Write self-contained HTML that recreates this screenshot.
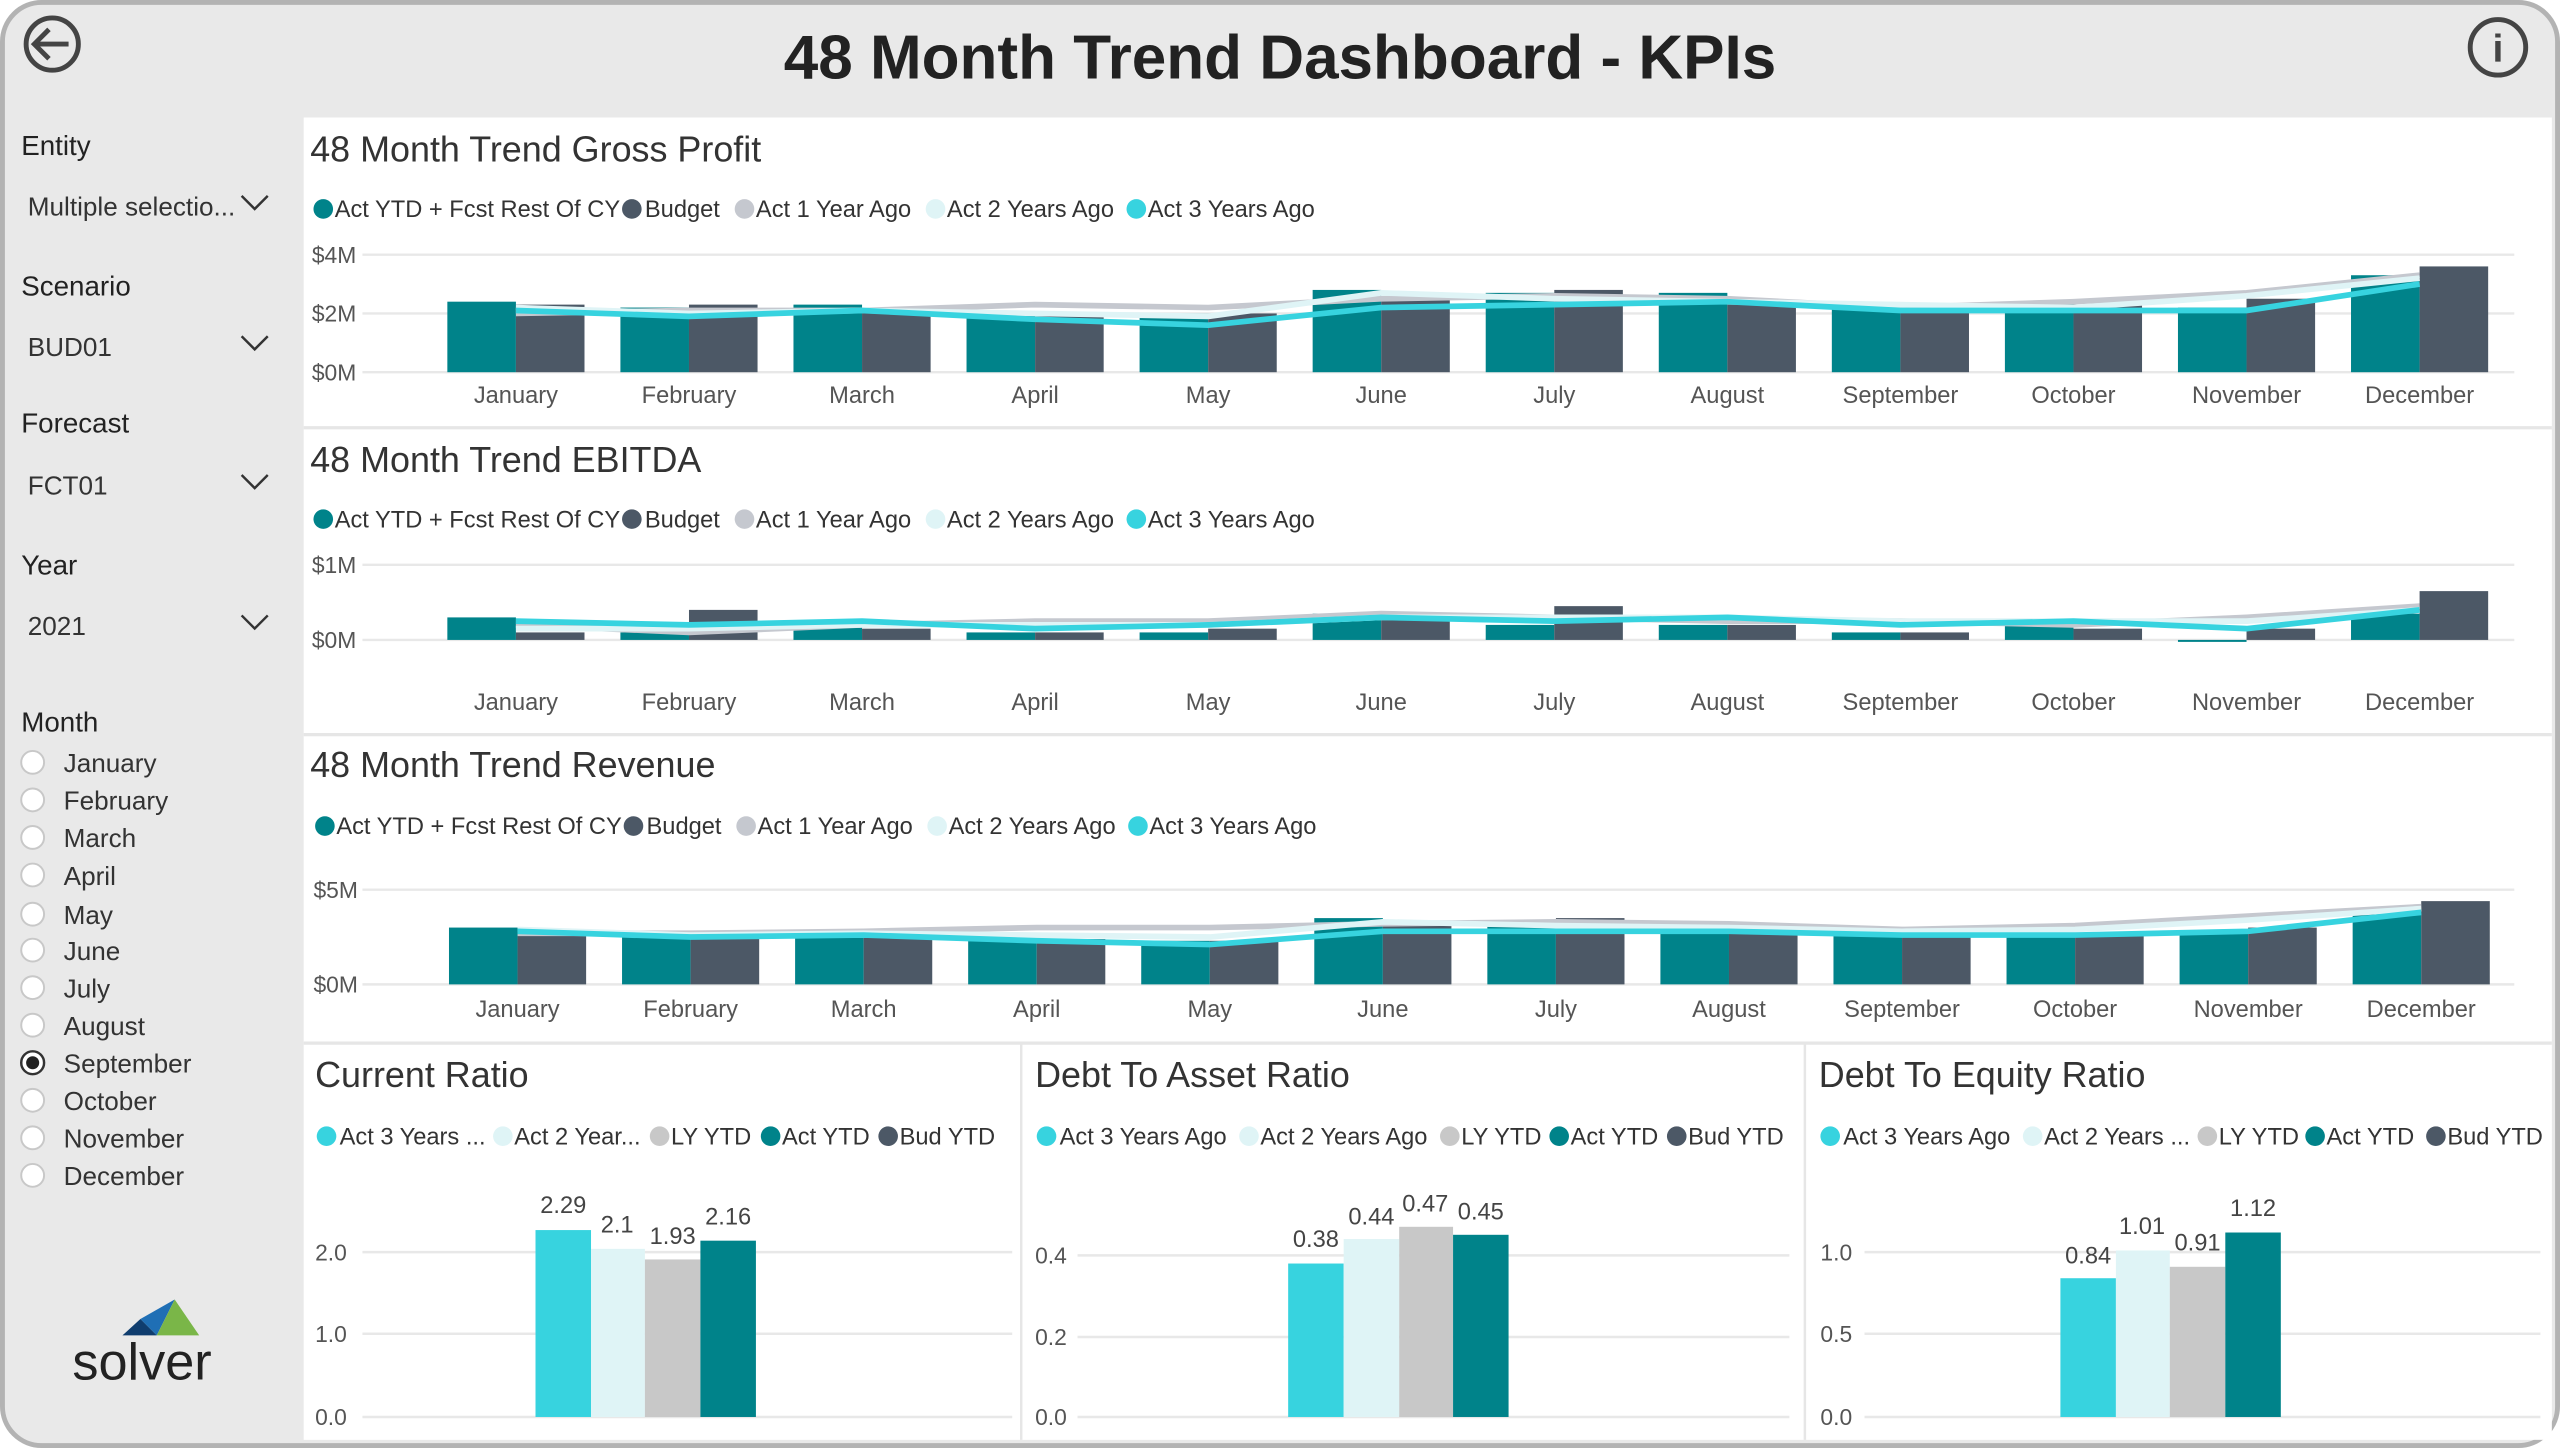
<!DOCTYPE html>
<html><head><meta charset="utf-8"><style>
html,body{margin:0;padding:0;background:#fff;}
svg{display:block;font-family:"Liberation Sans",sans-serif;}
</style></head><body>
<svg width="2560" height="1448" viewBox="0 0 1568 887" preserveAspectRatio="none" xmlns="http://www.w3.org/2000/svg">
<rect x="0" y="0" width="1568" height="887" fill="#fff"/>
<rect x="1.5" y="1.5" width="1565" height="884" rx="24" fill="#e9e9e9" stroke="#b3b3b3" stroke-width="3"/>
<!-- main white -->
<rect x="186" y="72" width="1377" height="810" fill="#fff"/>
<line x1="186" y1="262" x2="1563" y2="262" stroke="#e6e6e6" stroke-width="2"/>
<line x1="186" y1="450" x2="1563" y2="450" stroke="#e6e6e6" stroke-width="2"/>
<line x1="186" y1="639" x2="1563" y2="639" stroke="#e6e6e6" stroke-width="2"/>
<line x1="625.5" y1="639" x2="625.5" y2="882" stroke="#e6e6e6" stroke-width="1.5"/>
<line x1="1105.5" y1="639" x2="1105.5" y2="882" stroke="#e6e6e6" stroke-width="1.5"/>
<!-- header -->
<text x="784" y="48" text-anchor="middle" font-size="38" font-weight="bold" fill="#222">48 Month Trend Dashboard - KPIs</text>
<circle cx="32" cy="27" r="16" fill="none" stroke="#444" stroke-width="3"/>
<path d="M42 27 H22 M30 18 L21 27 L30 36" fill="none" stroke="#444" stroke-width="3"/>
<circle cx="1530" cy="29" r="17" fill="none" stroke="#444" stroke-width="3"/>
<text x="1530" y="38" text-anchor="middle" font-size="24" fill="#444" font-weight="bold">i</text>
<!-- left panel -->
<g font-size="17" fill="#222">
<text x="13" y="95">Entity</text>
<text x="13" y="181">Scenario</text>
<text x="13" y="265">Forecast</text>
<text x="13" y="352">Year</text>
<text x="13" y="448">Month</text>
</g>
<g font-size="16" fill="#333">
<text x="17" y="132">Multiple selectio...</text>
<text x="17" y="218">BUD01</text>
<text x="17" y="303">FCT01</text>
<text x="17" y="389">2021</text>
</g>
<g fill="none" stroke="#333" stroke-width="1.5">
<path d="M148 120 L156 128 L164 120"/><path d="M148 206 L156 214 L164 206"/><path d="M148 291 L156 299 L164 291"/><path d="M148 377 L156 385 L164 377"/>
</g>
<g font-size="16" fill="#333">
<text x="39" y="473">January</text><text x="39" y="496">February</text><text x="39" y="519">March</text><text x="39" y="542">April</text><text x="39" y="566">May</text><text x="39" y="588">June</text><text x="39" y="611">July</text><text x="39" y="634">August</text><text x="39" y="657">September</text><text x="39" y="680">October</text><text x="39" y="703">November</text><text x="39" y="726">December</text>
</g>
<g fill="#fff" stroke="#c8c8c8" stroke-width="1.2">
<circle cx="20" cy="467" r="7"/><circle cx="20" cy="490" r="7"/><circle cx="20" cy="513" r="7"/><circle cx="20" cy="536" r="7"/><circle cx="20" cy="560" r="7"/><circle cx="20" cy="582" r="7"/><circle cx="20" cy="605" r="7"/><circle cx="20" cy="628" r="7"/><circle cx="20" cy="674" r="7"/><circle cx="20" cy="697" r="7"/><circle cx="20" cy="720" r="7"/>
</g>
<circle cx="20" cy="651" r="7" fill="#fff" stroke="#333" stroke-width="1.5"/><circle cx="20" cy="651" r="4" fill="#222"/>
<!-- solver logo -->
<polygon points="86,808 107,796 96,818" fill="#1f6fb5"/>
<polygon points="107,796 122,818 96,818" fill="#7ab648"/>
<polygon points="86,808 96,818 75,818" fill="#0f3d6e"/>
<text x="87" y="845" text-anchor="middle" font-size="32" fill="#222">solver</text>

<!-- ===== Chart 1 Gross Profit ===== -->
<text x="190" y="99" font-size="22" fill="#333">48 Month Trend Gross Profit</text>
<g font-size="14.5" fill="#333">
<circle cx="198" cy="128" r="6" fill="#00838a"/><text x="205" y="133">Act YTD + Fcst Rest Of CY</text>
<circle cx="387" cy="128" r="6" fill="#4c5866"/><text x="395" y="133">Budget</text>
<circle cx="456" cy="128" r="6" fill="#c5c8cf"/><text x="463" y="133">Act 1 Year Ago</text>
<circle cx="573" cy="128" r="6" fill="#dff4f6"/><text x="580" y="133">Act 2 Years Ago</text>
<circle cx="696" cy="128" r="6" fill="#37d3df"/><text x="703" y="133">Act 3 Years Ago</text>
</g>
<g font-size="14" fill="#555">
<text x="191" y="161">$4M</text><text x="191" y="197">$2M</text><text x="191" y="233">$0M</text>
</g>
<g stroke="#e8e8e8" stroke-width="1.5"><line x1="222" y1="156" x2="1540" y2="156"/><line x1="222" y1="192" x2="1540" y2="192"/><line x1="222" y1="228" x2="1540" y2="228"/></g>
<g fill="#00838a">
<rect x="274" y="184.8" width="42" height="43.2"/><rect x="380" y="188.4" width="42" height="39.6"/><rect x="486" y="186.6" width="42" height="41.4"/><rect x="592" y="192" width="42" height="36"/><rect x="698" y="192" width="42" height="36"/><rect x="804" y="177.6" width="42" height="50.4"/><rect x="910" y="179.4" width="42" height="48.6"/><rect x="1016" y="179.4" width="42" height="48.6"/><rect x="1122" y="188.4" width="42" height="39.6"/><rect x="1228" y="186.6" width="42" height="41.4"/><rect x="1334" y="188.4" width="42" height="39.6"/><rect x="1440" y="168.6" width="42" height="59.4"/>
</g>
<g fill="#4c5866">
<rect x="316" y="186.6" width="42" height="41.4"/><rect x="422" y="186.6" width="42" height="41.4"/><rect x="528" y="188.4" width="42" height="39.6"/><rect x="634" y="193.8" width="42" height="34.2"/><rect x="740" y="192" width="42" height="36"/><rect x="846" y="183" width="42" height="45"/><rect x="952" y="177.6" width="42" height="50.4"/><rect x="1058" y="186.6" width="42" height="41.4"/><rect x="1164" y="188.4" width="42" height="39.6"/><rect x="1270" y="186.6" width="42" height="41.4"/><rect x="1376" y="183" width="42" height="45"/><rect x="1482" y="163.2" width="42" height="64.8"/>
</g>
<g fill="none" stroke-width="3.5" stroke-linejoin="round">
<polyline stroke="#c5c8cf" points="316,192 422,190.2 528,190.2 634,186.6 740,188.4 846,183 952,181.2 1058,183 1164,188.4 1270,184.8 1376,179.4 1482,168.6"/>
<polyline stroke="#dff4f6" points="316,188.4 422,192 528,190.2 634,192 740,193.8 846,179.4 952,183 1058,184.8 1164,186.6 1270,188.4 1376,181.2 1482,170.4"/>
<polyline stroke="#37d3df" points="316,190.2 422,193.8 528,190.2 634,195.6 740,199.2 846,188.4 952,186.6 1058,184.8 1164,190.2 1270,190.2 1376,190.2 1482,174"/>
</g>
<g font-size="14.5" fill="#555" text-anchor="middle">
<text x="316" y="247">January</text><text x="422" y="247">February</text><text x="528" y="247">March</text><text x="634" y="247">April</text><text x="740" y="247">May</text><text x="846" y="247">June</text><text x="952" y="247">July</text><text x="1058" y="247">August</text><text x="1164" y="247">September</text><text x="1270" y="247">October</text><text x="1376" y="247">November</text><text x="1482" y="247">December</text>
</g>

<!-- ===== Chart 2 EBITDA ===== -->
<text x="190" y="289" font-size="22" fill="#333">48 Month Trend EBITDA</text>
<g font-size="14.5" fill="#333">
<circle cx="198" cy="318" r="6" fill="#00838a"/><text x="205" y="323">Act YTD + Fcst Rest Of CY</text>
<circle cx="387" cy="318" r="6" fill="#4c5866"/><text x="395" y="323">Budget</text>
<circle cx="456" cy="318" r="6" fill="#c5c8cf"/><text x="463" y="323">Act 1 Year Ago</text>
<circle cx="573" cy="318" r="6" fill="#dff4f6"/><text x="580" y="323">Act 2 Years Ago</text>
<circle cx="696" cy="318" r="6" fill="#37d3df"/><text x="703" y="323">Act 3 Years Ago</text>
</g>
<g font-size="14" fill="#555"><text x="191" y="351">$1M</text><text x="191" y="397">$0M</text></g>
<g stroke="#e8e8e8" stroke-width="1.5"><line x1="222" y1="346" x2="1540" y2="346"/><line x1="222" y1="392" x2="1540" y2="392"/></g>
<g fill="#00838a">
<rect x="274" y="378.2" width="42" height="13.8"/><rect x="380" y="387.4" width="42" height="4.6"/><rect x="486" y="382.8" width="42" height="9.2"/><rect x="592" y="387.4" width="42" height="4.6"/><rect x="698" y="387.4" width="42" height="4.6"/><rect x="804" y="375.9" width="42" height="16.1"/><rect x="910" y="382.8" width="42" height="9.2"/><rect x="1016" y="382.8" width="42" height="9.2"/><rect x="1122" y="387.4" width="42" height="4.6"/><rect x="1228" y="382.8" width="42" height="9.2"/><rect x="1334" y="392" width="42" height="1.2"/><rect x="1440" y="375.9" width="42" height="16.1"/>
</g>
<g fill="#4c5866">
<rect x="316" y="387.4" width="42" height="4.6"/><rect x="422" y="373.6" width="42" height="18.4"/><rect x="528" y="385.1" width="42" height="6.9"/><rect x="634" y="387.4" width="42" height="4.6"/><rect x="740" y="385.1" width="42" height="6.9"/><rect x="846" y="378.2" width="42" height="13.8"/><rect x="952" y="371.3" width="42" height="20.7"/><rect x="1058" y="382.8" width="42" height="9.2"/><rect x="1164" y="387.4" width="42" height="4.6"/><rect x="1270" y="385.1" width="42" height="6.9"/><rect x="1376" y="385.1" width="42" height="6.9"/><rect x="1482" y="362.1" width="42" height="29.9"/>
</g>
<g fill="none" stroke-width="3.5" stroke-linejoin="round">
<polyline stroke="#c5c8cf" points="316,382.8 422,387.4 528,382.8 634,380.5 740,380.5 846,375.9 952,378.2 1058,380.5 1164,380.5 1270,382.8 1376,378.2 1482,371.3"/>
<polyline stroke="#dff4f6" points="316,385.1 422,385.1 528,382.8 634,382.8 740,382.8 846,378.2 952,378.2 1058,378.2 1164,380.5 1270,380.5 1376,380.5 1482,373.6"/>
<polyline stroke="#37d3df" points="316,380.5 422,382.8 528,380.5 634,385.1 740,382.8 846,378.2 952,380.5 1058,378.2 1164,382.8 1270,380.5 1376,385.1 1482,373.6"/>
</g>
<g font-size="14.5" fill="#555" text-anchor="middle">
<text x="316" y="435">January</text><text x="422" y="435">February</text><text x="528" y="435">March</text><text x="634" y="435">April</text><text x="740" y="435">May</text><text x="846" y="435">June</text><text x="952" y="435">July</text><text x="1058" y="435">August</text><text x="1164" y="435">September</text><text x="1270" y="435">October</text><text x="1376" y="435">November</text><text x="1482" y="435">December</text>
</g>

<!-- ===== Chart 3 Revenue ===== -->
<text x="190" y="476" font-size="22" fill="#333">48 Month Trend Revenue</text>
<g font-size="14.5" fill="#333">
<circle cx="199" cy="506" r="6" fill="#00838a"/><text x="206" y="511">Act YTD + Fcst Rest Of CY</text>
<circle cx="388" cy="506" r="6" fill="#4c5866"/><text x="396" y="511">Budget</text>
<circle cx="457" cy="506" r="6" fill="#c5c8cf"/><text x="464" y="511">Act 1 Year Ago</text>
<circle cx="574" cy="506" r="6" fill="#dff4f6"/><text x="581" y="511">Act 2 Years Ago</text>
<circle cx="697" cy="506" r="6" fill="#37d3df"/><text x="704" y="511">Act 3 Years Ago</text>
</g>
<g font-size="14" fill="#555"><text x="192" y="550">$5M</text><text x="192" y="608">$0M</text></g>
<g stroke="#e8e8e8" stroke-width="1.5"><line x1="222" y1="545" x2="1540" y2="545"/><line x1="222" y1="603" x2="1540" y2="603"/></g>
<g fill="#00838a">
<rect x="275" y="568.2" width="42" height="34.8"/><rect x="381" y="571.7" width="42" height="31.3"/><rect x="487" y="570.5" width="42" height="32.5"/><rect x="593" y="575.2" width="42" height="27.8"/><rect x="699" y="576.3" width="42" height="26.7"/><rect x="805" y="562.4" width="42" height="40.6"/><rect x="911" y="565.9" width="42" height="37.1"/><rect x="1017" y="567" width="42" height="36"/><rect x="1123" y="572.8" width="42" height="30.2"/><rect x="1229" y="571.7" width="42" height="31.3"/><rect x="1335" y="570.5" width="42" height="32.5"/><rect x="1441" y="556.6" width="42" height="46.4"/>
</g>
<g fill="#4c5866">
<rect x="317" y="569.4" width="42" height="33.6"/><rect x="423" y="570.5" width="42" height="32.5"/><rect x="529" y="571.7" width="42" height="31.3"/><rect x="635" y="575.2" width="42" height="27.8"/><rect x="741" y="576.3" width="42" height="26.7"/><rect x="847" y="565.9" width="42" height="37.1"/><rect x="953" y="562.4" width="42" height="40.6"/><rect x="1059" y="565.9" width="42" height="37.1"/><rect x="1165" y="572.8" width="42" height="30.2"/><rect x="1271" y="571.7" width="42" height="31.3"/><rect x="1377" y="568.2" width="42" height="34.8"/><rect x="1483" y="552" width="42" height="51"/>
</g>
<g fill="none" stroke-width="3.5" stroke-linejoin="round">
<polyline stroke="#c5c8cf" points="317,571.7 423,571.7 529,570.5 635,568.2 741,568.2 847,565.9 953,564.7 1059,565.9 1165,569.4 1271,567 1377,561.2 1483,555.4"/>
<polyline stroke="#dff4f6" points="317,569.4 423,572.8 529,571.7 635,572.8 741,574 847,564.7 953,567 1059,568.2 1165,570.5 1271,569.4 1377,563.6 1483,556.6"/>
<polyline stroke="#37d3df" points="317,570.5 423,574 529,572.8 635,576.3 741,578.6 847,570.5 953,570.5 1059,570.5 1165,572.8 1271,572.8 1377,570.5 1483,558.9"/>
</g>
<g font-size="14.5" fill="#555" text-anchor="middle">
<text x="317" y="623">January</text><text x="423" y="623">February</text><text x="529" y="623">March</text><text x="635" y="623">April</text><text x="741" y="623">May</text><text x="847" y="623">June</text><text x="953" y="623">July</text><text x="1059" y="623">August</text><text x="1165" y="623">September</text><text x="1271" y="623">October</text><text x="1377" y="623">November</text><text x="1483" y="623">December</text>
</g>

<!-- ===== Current Ratio ===== -->
<text x="193" y="666" font-size="22" fill="#333">Current Ratio</text>
<g font-size="14.5" fill="#333">
<circle cx="200" cy="696" r="6" fill="#37d3df"/><text x="208" y="701">Act 3 Years ...</text>
<circle cx="308" cy="696" r="6" fill="#dff4f6"/><text x="315" y="701">Act 2 Year...</text>
<circle cx="404" cy="696" r="6" fill="#c8c8c8"/><text x="411" y="701">LY YTD</text>
<circle cx="472" cy="696" r="6" fill="#00838a"/><text x="479" y="701">Act YTD</text>
<circle cx="544" cy="696" r="6" fill="#4c5866"/><text x="551" y="701">Bud YTD</text>
</g>
<g font-size="14" fill="#555"><text x="193" y="772">2.0</text><text x="193" y="822">1.0</text><text x="193" y="873">0.0</text></g>
<g stroke="#e8e8e8" stroke-width="1.5"><line x1="222" y1="767" x2="620" y2="767"/><line x1="222" y1="817" x2="620" y2="817"/><line x1="222" y1="868" x2="620" y2="868"/></g>
<rect x="328" y="753.5" width="34" height="114.5" fill="#37d3df"/>
<rect x="362" y="765" width="33" height="103" fill="#dff4f6"/>
<rect x="395" y="771.5" width="34" height="96.5" fill="#c8c8c8"/>
<rect x="429" y="760" width="34" height="108" fill="#00838a"/>
<g font-size="14.5" fill="#444" text-anchor="middle"><text x="345" y="743">2.29</text><text x="378" y="755">2.1</text><text x="412" y="762">1.93</text><text x="446" y="750">2.16</text></g>

<!-- ===== Debt To Asset ===== -->
<text x="634" y="666" font-size="22" fill="#333">Debt To Asset Ratio</text>
<g font-size="14.5" fill="#333">
<circle cx="641" cy="696" r="6" fill="#37d3df"/><text x="649" y="701">Act 3 Years Ago</text>
<circle cx="765" cy="696" r="6" fill="#dff4f6"/><text x="772" y="701">Act 2 Years Ago</text>
<circle cx="888" cy="696" r="6" fill="#c8c8c8"/><text x="895" y="701">LY YTD</text>
<circle cx="955" cy="696" r="6" fill="#00838a"/><text x="962" y="701">Act YTD</text>
<circle cx="1027" cy="696" r="6" fill="#4c5866"/><text x="1034" y="701">Bud YTD</text>
</g>
<g font-size="14" fill="#555"><text x="634" y="774">0.4</text><text x="634" y="824">0.2</text><text x="634" y="873">0.0</text></g>
<g stroke="#e8e8e8" stroke-width="1.5"><line x1="660" y1="769" x2="1096" y2="769"/><line x1="660" y1="819" x2="1096" y2="819"/><line x1="660" y1="868" x2="1096" y2="868"/></g>
<rect x="789" y="774" width="34" height="94" fill="#37d3df"/>
<rect x="823" y="759" width="34" height="109" fill="#dff4f6"/>
<rect x="857" y="751.5" width="33" height="116.5" fill="#c8c8c8"/>
<rect x="890" y="756.4" width="34" height="111.6" fill="#00838a"/>
<g font-size="14.5" fill="#444" text-anchor="middle"><text x="806" y="764">0.38</text><text x="840" y="750">0.44</text><text x="873" y="742">0.47</text><text x="907" y="747">0.45</text></g>

<!-- ===== Debt To Equity ===== -->
<text x="1114" y="666" font-size="22" fill="#333">Debt To Equity Ratio</text>
<g font-size="14.5" fill="#333">
<circle cx="1121" cy="696" r="6" fill="#37d3df"/><text x="1129" y="701">Act 3 Years Ago</text>
<circle cx="1245" cy="696" r="6" fill="#dff4f6"/><text x="1252" y="701">Act 2 Years ...</text>
<circle cx="1352" cy="696" r="6" fill="#c8c8c8"/><text x="1359" y="701">LY YTD</text>
<circle cx="1418" cy="696" r="6" fill="#00838a"/><text x="1425" y="701">Act YTD</text>
<circle cx="1492" cy="696" r="6" fill="#4c5866"/><text x="1499" y="701">Bud YTD</text>
</g>
<g font-size="14" fill="#555"><text x="1115" y="772">1.0</text><text x="1115" y="822">0.5</text><text x="1115" y="873">0.0</text></g>
<g stroke="#e8e8e8" stroke-width="1.5"><line x1="1142" y1="767" x2="1556" y2="767"/><line x1="1142" y1="817" x2="1556" y2="817"/><line x1="1142" y1="868" x2="1556" y2="868"/></g>
<rect x="1262" y="783" width="34" height="85" fill="#37d3df"/>
<rect x="1296" y="766" width="33" height="102" fill="#dff4f6"/>
<rect x="1329" y="776" width="34" height="92" fill="#c8c8c8"/>
<rect x="1363" y="755" width="34" height="113" fill="#00838a"/>
<g font-size="14.5" fill="#444" text-anchor="middle"><text x="1279" y="774">0.84</text><text x="1312" y="756">1.01</text><text x="1346" y="766">0.91</text><text x="1380" y="745">1.12</text></g>
</svg>
</body></html>
